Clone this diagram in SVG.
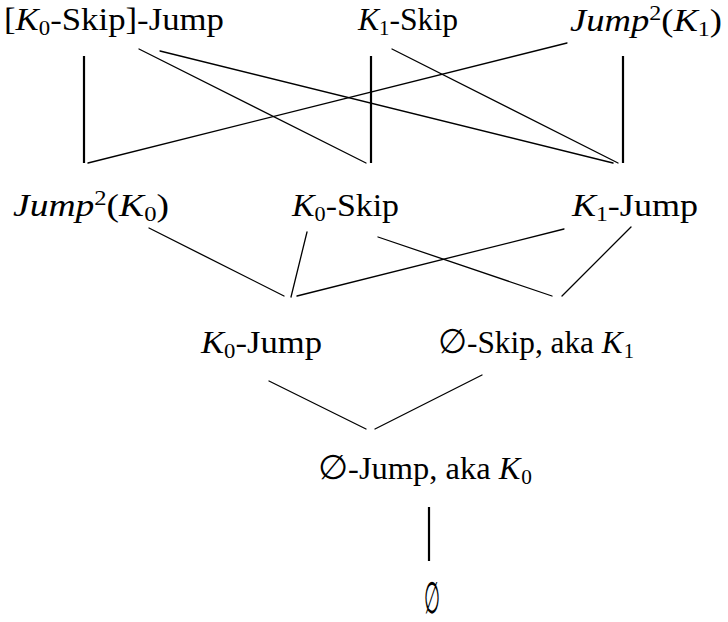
<svg xmlns="http://www.w3.org/2000/svg" width="728" height="622" viewBox="0 0 728 622">
<style>
text{font-family:'Liberation Serif','Times New Roman',Tinos,'DejaVu Serif','Noto Serif',serif;font-size:32px;fill:#000}
.i{font-style:italic}
.s{font-size:21px}
.e{font-family:'DejaVu Serif','DejaVu Sans',serif;font-size:34px}
.d{stroke:#000;stroke-width:1.3;fill:none;stroke-linecap:round}
.v{stroke:#000;stroke-width:2.2;fill:none}
</style>
<rect width="728" height="622" fill="#fff"/>
<g id="connectors">
<line class="v" x1="84" y1="56" x2="84" y2="163"/>
<line class="v" x1="371" y1="56" x2="371" y2="163"/>
<line class="v" x1="623" y1="56" x2="623" y2="163"/>
<line class="d" x1="139" y1="49" x2="366" y2="163"/>
<line class="d" x1="160" y1="51" x2="613" y2="163"/>
<line class="d" x1="392" y1="49" x2="618" y2="163"/>
<line class="d" x1="567" y1="43" x2="88" y2="163"/>
<line class="d" x1="149" y1="228" x2="284" y2="296"/>
<line class="d" x1="307" y1="232" x2="291" y2="297"/>
<line class="d" x1="564" y1="229" x2="297" y2="296"/>
<line class="d" x1="378" y1="237" x2="552" y2="296"/>
<line class="d" x1="631" y1="227" x2="562" y2="296"/>
<line class="d" x1="269" y1="381" x2="366" y2="429"/>
<line class="d" x1="482" y1="375" x2="375" y2="429"/>
<line class="v" x1="429" y1="507" x2="429" y2="561"/>
</g>
<g id="k0skip-jump"><text x="4" y="30" textLength="220" lengthAdjust="spacingAndGlyphs">[<tspan class="i">K</tspan><tspan class="s" dy="5">0</tspan><tspan dy="-5">-Skip]-Jump</tspan></text></g>
<g id="k1-skip"><text x="358" y="30" textLength="100" lengthAdjust="spacingAndGlyphs"><tspan class="i">K</tspan><tspan class="s" dy="5">1</tspan><tspan dy="-5">-Skip</tspan></text></g>
<g id="jump2-k1"><text x="570" y="31" textLength="152" lengthAdjust="spacingAndGlyphs"><tspan class="i">Jump</tspan><tspan class="s" dy="-11">2</tspan><tspan dy="11">(</tspan><tspan class="i">K</tspan><tspan class="s" dy="5">1</tspan><tspan dy="-5">)</tspan></text></g>
<g id="jump2-k0"><text x="13" y="216" textLength="156" lengthAdjust="spacingAndGlyphs"><tspan class="i">Jump</tspan><tspan class="s" dy="-11">2</tspan><tspan dy="11">(</tspan><tspan class="i">K</tspan><tspan class="s" dy="5">0</tspan><tspan dy="-5">)</tspan></text></g>
<g id="k0-skip"><text x="292" y="216" textLength="107" lengthAdjust="spacingAndGlyphs"><tspan class="i">K</tspan><tspan class="s" dy="5">0</tspan><tspan dy="-5">-Skip</tspan></text></g>
<g id="k1-jump"><text x="572" y="216" textLength="126" lengthAdjust="spacingAndGlyphs"><tspan class="i">K</tspan><tspan class="s" dy="5">1</tspan><tspan dy="-5">-Jump</tspan></text></g>
<g id="k0-jump"><text x="201" y="353" textLength="121" lengthAdjust="spacingAndGlyphs"><tspan class="i">K</tspan><tspan class="s" dy="5">0</tspan><tspan dy="-5">-Jump</tspan></text></g>
<g id="empty-skip"><text x="438" y="353" textLength="196" lengthAdjust="spacingAndGlyphs"><tspan class="e">∅</tspan>-Skip, aka <tspan class="i">K</tspan><tspan class="s" dx="1" dy="5">1</tspan></text></g>
<g id="empty-jump"><text x="318" y="479" textLength="214" lengthAdjust="spacingAndGlyphs"><tspan class="e">∅</tspan>-Jump, aka <tspan class="i">K</tspan><tspan class="s" dx="1" dy="5">0</tspan></text></g>
<g id="empty"><text class="e" x="424" y="613" textLength="16" lengthAdjust="spacingAndGlyphs" style="font-size:44px">∅</text></g>
</svg>
